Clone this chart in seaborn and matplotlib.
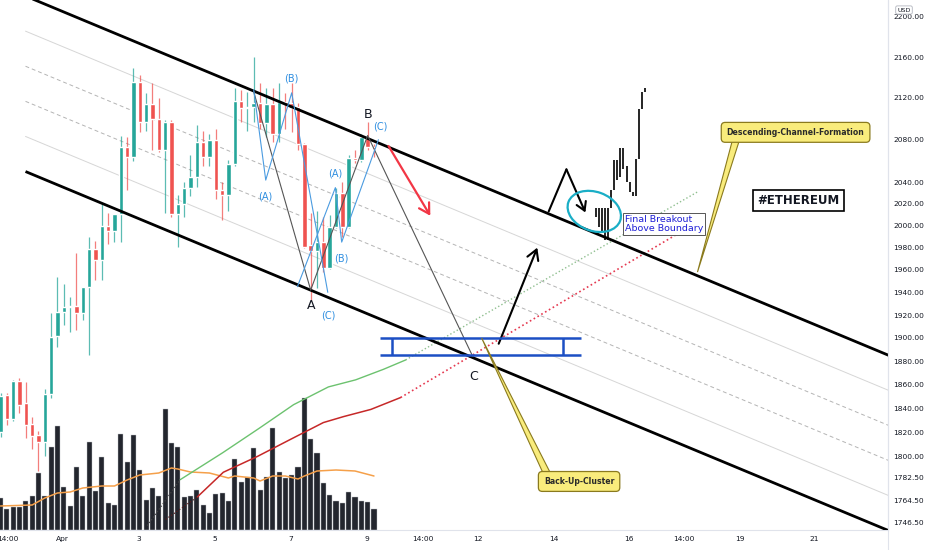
import numpy as np
import seaborn as sns
import matplotlib.pyplot as plt
from matplotlib import transforms
from matplotlib.patches import Ellipse, Polygon
from matplotlib.lines import Line2D
from matplotlib.ticker import FixedLocator, NullLocator, FuncFormatter

# ETH/USD 4h candles (index = bar number)
opens = [1820, 1851, 1831, 1863, 1844, 1827, 1818, 1812, 1852, 1902, 1923, 1927, 1928, 1922, 1945,
         1979, 1969, 2000, 1995, 2011, 2073, 2064, 2136, 2097, 2114, 2100, 2070, 2097, 2011, 2020,
         2035, 2045, 2078, 2064, 2080, 2033, 2028, 2057, 2117, 2110, 2111, 2115, 2096, 2114, 2085,
         2116, 2115, 2111, 2076, 1982, 1977, 1985, 1962, 1999, 2030, 1999, 2063, 2061, 2083, 2073]
highs = [1853, 1853, 1864, 1866, 1862, 1833, 1821, 1856, 1922, 1954, 1947, 1936, 1975, 1945, 1990,
         1986, 2020, 2012, 2011, 2084, 2083, 2149, 2142, 2125, 2135, 2120, 2099, 2099, 2028, 2040,
         2066, 2094, 2088, 2085, 2090, 2040, 2061, 2130, 2128, 2126, 2160, 2135, 2130, 2130, 2135,
         2125, 2135, 2115, 2077, 2012, 2013, 2008, 2010, 2035, 2040, 2066, 2070, 2085, 2097, 2076]
lows = [1816, 1826, 1829, 1836, 1815, 1806, 1788, 1800, 1849, 1892, 1911, 1905, 1907, 1916, 1885,
        1951, 1951, 1983, 1985, 1985, 2033, 2060, 2087, 2088, 2070, 2068, 2012, 2008, 1981, 2008,
        2027, 2036, 2055, 2055, 2024, 2005, 2013, 2055, 2097, 2088, 2097, 2090, 2083, 2078, 2078,
        2090, 2087, 2070, 1980, 1933, 1944, 1958, 1961, 1998, 1990, 1998, 2058, 2059, 2070, 2064]
closes = [1850, 1831, 1863, 1843, 1826, 1817, 1812, 1852, 1901, 1923, 1927, 1928, 1922, 1945, 1979,
          1969, 2000, 1995, 2011, 2073, 2064, 2136, 2097, 2114, 2100, 2070, 2097, 2011, 2020, 2035,
          2045, 2078, 2064, 2080, 2033, 2028, 2057, 2117, 2110, 2111, 2115, 2096, 2114, 2085, 2116,
          2114, 2110, 2076, 1981, 1977, 1985, 1962, 1999, 2030, 1999, 2063, 2061, 2083, 2073, 2071]
volume = [32, 21, 23, 23, 29, 34, 57, 34, 83, 104, 43, 24, 63, 34, 88, 39, 73, 27, 25, 96,
          68, 95, 60, 30, 42, 34, 121, 87, 83, 33, 34, 40, 25, 17, 36, 37, 29, 71, 48, 53,
          82, 40, 53, 102, 58, 52, 55, 63, 132, 91, 77, 47, 35, 29, 27, 38, 33, 29, 28, 21]
vol_ma_x = [0, 5, 7, 9, 11, 13, 16, 18, 20, 22, 25, 27, 28, 30, 33, 36, 37, 40, 41, 43, 45, 47,
            48, 50, 53, 56, 59]
vol_ma = [24, 25, 32, 37, 38, 42, 44, 44, 50, 55, 57, 62, 61, 58, 57, 52, 54, 52, 49, 54, 54, 51,
          54, 59, 60, 59, 54]

# moving averages on price
ma_green_x = [28.4, 35.1, 40.8, 46.3, 51.8, 56.1, 60.5, 64.0]
ma_green_y = [1781, 1803, 1823, 1843, 1858, 1864, 1873, 1881]
ma_red_x = [31.1, 35.2, 40.6, 45.8, 51.0, 54.2, 58.5, 63.2]
ma_red_y = [1767, 1787, 1800, 1814, 1828, 1833, 1839, 1849]

# descending channel
channel_x = [3.95, 140.3]
channel_upper = [2221, 1885]
channel_lower = [2050, 1740]
channel_levels = [0.2, 0.4, 0.6, 0.8]

# wave drawings
abc_x = [40.0, 49.0, 58.0, 74.6]
abc_y = [2126, 1942, 2084, 1884]
wave1_x = [40.0, 41.9, 46.0, 51.7]
wave1_y = [2128, 2042, 2125, 1940]
wave2_x = [46.9, 52.9, 53.9, 59.7]
wave2_y = [1945, 2035, 1985, 2080]

# projected bars pattern
proj_x = [94.0 + 0.49 * k for k in range(17)]
proj_hi = [2016, 2016, 2016, 2016, 2016, 2033, 2061, 2061, 2072, 2072, 2055, 2040, 2031, 2062,
           2109, 2126, 2130]
proj_lo = [2008, 1999, 1994, 1987, 1987, 2016, 2033, 2042, 2045, 2052, 2040, 2031, 2027, 2027,
           2062, 2109, 2126]

xtick_pos = [1.1, 9.75, 21.8, 33.85, 45.8, 57.8, 66.8, 75.5, 87.4, 99.2, 107.9, 116.8, 128.6]
xtick_lab = ["14:00", "Apr", "3", "5", "7", "9", "14:00", "12", "14", "16", "14:00", "19", "21"]
ytick_vals = [2200, 2160, 2120, 2080, 2040, 2020, 2000, 1980, 1960, 1940, 1920, 1900, 1880,
              1860, 1840, 1820, 1800, 1782.5, 1764.5, 1746.5]

sns.set_theme(style="white")
plt.rcParams["font.family"] = ["DejaVu Sans"]

UP, DOWN = "#26a69a", "#ef5350"

fig = plt.figure(figsize=(9.32, 5.5), dpi=100)
ax = fig.add_axes([0, 20 / 550, 888 / 932, 530 / 550])
vax = ax.twinx()
ax.set_zorder(vax.get_zorder() + 1)
ax.patch.set_visible(False)

# volume
vax.bar(range(len(volume)), volume, width=0.8, color="#23262e", edgecolor="#c0c2c8", lw=0.3)
sns.lineplot(x=vol_ma_x, y=vol_ma, ax=vax, color="#f5a04a", lw=1.1)
vax.set_ylim(0, 530)
vax.set_axis_off()

ax.set_yscale("log")
ax.set_xlim(-0.08, 140.2)
ax.set_ylim(1740.5, 2217)
ax.autoscale(False)

# channel + inner levels
lu, ll = np.log(channel_upper), np.log(channel_lower)
for f in channel_levels:
    ly = np.exp(lu * (1 - f) + ll * f)
    dashed = f in (0.4, 0.6)
    ax.plot(channel_x, ly, color="#b4b4b4" if dashed else "#d6d6d6", lw=0.7,
            ls=(0, (4, 3)) if dashed else "-", zorder=1)
ax.plot(channel_x, channel_upper, color="black", lw=2.0, zorder=4, solid_capstyle="butt")
ax.plot(channel_x, channel_lower, color="black", lw=2.0, zorder=4, solid_capstyle="butt")

# candles
for i, (o, h, l, c) in enumerate(zip(opens, highs, lows, closes)):
    col = UP if c >= o else DOWN
    ax.vlines(i, l, h, color=col, lw=0.9, alpha=0.75, zorder=2)
    ax.bar(i, max(abs(c - o), 1.2), bottom=min(o, c), width=0.7, color=col, zorder=3)

# moving averages
sns.lineplot(x=ma_green_x, y=ma_green_y, ax=ax, color="#6cc26f", lw=1.0, zorder=3)
sns.lineplot(x=ma_red_x, y=ma_red_y, ax=ax, color="#c62828", lw=1.1, zorder=3)
ax.plot([23.2, 28.4], [1744, 1781], color="#444444", lw=0.9, ls=":", zorder=3)
ax.plot([26.1, 31.1], [1749, 1767], color="#5a1a1a", lw=0.9, ls=":", zorder=3)
ax.plot([64.0, 110.1], [1881, 2031], color="#8fbf8f", lw=1.0, ls=":", zorder=3)
ax.plot([63.2, 107.4], [1849, 1994], color="#e53950", lw=1.2, ls=":", zorder=3)

# wave lines
ax.plot(abc_x, abc_y, color="#555555", lw=0.8, zorder=5)
ax.plot(wave1_x, wave1_y, color="#4a9be0", lw=0.8, zorder=5)
ax.plot(wave2_x, wave2_y, color="#4a9be0", lw=0.8, zorder=5)
for x, y, s in [(49.0, 1928, "A"), (58.0, 2104, "B"), (74.7, 1867, "C")]:
    ax.text(x, y, s, fontsize=9, ha="center", va="center", color="#131722", zorder=6)
for x, y, s in [(46.0, 2139, "(B)"), (41.9, 2027, "(A)"), (51.8, 1920, "(C)"),
                (52.9, 2048, "(A)"), (53.9, 1970, "(B)"), (60.0, 2093, "(C)")]:
    ax.text(x, y, s, fontsize=7, ha="center", va="center", color="#2e8ee0", zorder=6)

# arrows
ax.annotate("", xy=(67.9, 2009), xytext=(61.3, 2074), zorder=6,
            arrowprops=dict(arrowstyle="->,head_length=0.6,head_width=0.35", color="#f23645",
                            lw=1.6, shrinkA=0, shrinkB=0))
ax.annotate("", xy=(84.8, 1980), xytext=(78.7, 1895), zorder=6,
            arrowprops=dict(arrowstyle="->,head_length=0.6,head_width=0.35", color="black",
                            lw=1.5, shrinkA=0, shrinkB=0))
zig_x, zig_y = [86.6, 89.4, 92.4], [2013, 2052, 2012]
ax.plot(zig_x[:2], zig_y[:2], color="black", lw=1.5, zorder=6)
ax.annotate("", xy=(zig_x[2], zig_y[2]), xytext=(zig_x[1], zig_y[1]), zorder=6,
            arrowprops=dict(arrowstyle="->,head_length=0.5,head_width=0.3", color="black",
                            lw=1.5, shrinkA=0, shrinkB=0))

# projected bars
ax.vlines(proj_x, proj_lo, proj_hi, color="black", lw=1.2, zorder=6)

# blue range box
rng_top, rng_bot = 1900, 1885.5
ax.hlines([rng_top, rng_bot], 59.9, 91.7, color="#1c4fc4", lw=1.8, zorder=6)
ax.vlines([61.9, 88.8], rng_bot, rng_top, color="#1c4fc4", lw=1.8, zorder=6)

# breakout ellipse
etr = fig.dpi_scale_trans + transforms.ScaledTranslation(93.8, 2013, ax.transData)
ax.add_patch(Ellipse((0, 0), 0.55, 0.39, angle=-20, transform=etr, fill=False,
                     ec="#1aaec6", lw=1.6, zorder=7))

ax.text(98.6, 2001.5, "Final Breakout\nAbove Boundary", fontsize=6.8, color="#1f1fd6",
        ha="left", va="center", linespacing=1.0, zorder=8,
        bbox=dict(boxstyle="square,pad=0.2", fc="white", ec="#555555", lw=0.7))
ax.text(126.1, 2023, "#ETHEREUM", fontsize=8.5, fontweight="bold", color="#131722",
        ha="center", va="center", zorder=8,
        bbox=dict(boxstyle="square,pad=0.35", fc="white", ec="black", lw=1.2))

# callouts
YEL, YEL_EDGE = "#f9ec7c", "#8a7a1e"
ax.add_patch(Polygon([(115.6, 2079), (116.7, 2079), (110.1, 1958)], closed=True,
                     fc=YEL, ec=YEL_EDGE, lw=0.8, zorder=7))
ax.text(125.6, 2087, "Descending-Channel-Formation", fontsize=5.6, fontweight="bold",
        color="#2a2a2a", ha="center", va="center", zorder=8,
        bbox=dict(boxstyle="round,pad=0.7,rounding_size=0.5", fc=YEL, ec=YEL_EDGE, lw=0.9))
ax.add_patch(Polygon([(86.0, 1783), (87.2, 1783), (76.0, 1900)], closed=True,
                     fc=YEL, ec=YEL_EDGE, lw=0.8, zorder=7))
ax.text(91.4, 1779.5, "Back-Up-Cluster", fontsize=5.6, fontweight="bold",
        color="#2a2a2a", ha="center", va="center", zorder=8,
        bbox=dict(boxstyle="round,pad=0.7,rounding_size=0.5", fc=YEL, ec=YEL_EDGE, lw=0.9))

# axes styling
ax.yaxis.tick_right()
ax.yaxis.set_major_locator(FixedLocator(ytick_vals))
ax.yaxis.set_minor_locator(NullLocator())
ax.yaxis.set_major_formatter(FuncFormatter(lambda v, p: f"{v:.2f}"))
ax.yaxis.set_minor_formatter(FuncFormatter(lambda v, p: ""))
ax.set_xticks(xtick_pos)
ax.set_xticklabels(xtick_lab)
ax.tick_params(axis="both", length=0, labelsize=5.4, labelcolor="#131722")
ax.tick_params(axis="y", pad=4)
ax.tick_params(axis="x", pad=4)
ax.grid(False)
for side in ["left", "top"]:
    ax.spines[side].set_visible(False)
for side in ["right", "bottom"]:
    ax.spines[side].set_color("#e0e3eb")
    ax.spines[side].set_linewidth(0.8)
fig.add_artist(Line2D([888 / 932] * 2, [0, 1], transform=fig.transFigure,
                      color="#e0e3eb", lw=0.8))
fig.text(904 / 932, 1 - 10 / 550, "USD", fontsize=4.6, color="#131722", ha="center",
         va="center", bbox=dict(boxstyle="round,pad=0.25", fc="white", ec="#b2b5be", lw=0.6))

fig.savefig("out.png", dpi=100)
